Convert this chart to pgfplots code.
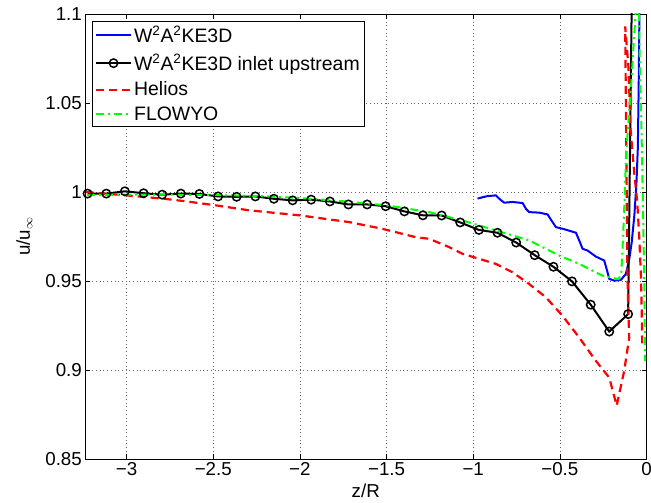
\documentclass[border=0pt]{standalone}
\usepackage{fontspec}
\setmainfont{Liberation Sans}
\usepackage{pgfplots}
\pgfplotsset{compat=1.18}

\definecolor{mblue}{rgb}{0,0,1}
\definecolor{mred}{rgb}{1,0,0}
\definecolor{mgreen}{rgb}{0,1,0}

\begin{document}
\begin{tikzpicture}
\begin{axis}[
  scale only axis, width=561.5bp, height=445bp,
  xmin=-3.24, xmax=0, ymin=0.85, ymax=1.1,
  xtick={-3,-2.5,-2,-1.5,-1,-0.5,0},
  xticklabels={−3,−2.5,−2,−1.5,−1,−0.5,0},
  ytick={0.85,0.9,0.95,1,1.05,1.1},
  yticklabels={0.85,0.9,0.95,1,1.05,1.1},
  tick align=inside, major tick length=5bp,
  tick style={black, line width=0.5bp},
  axis line style={black, line width=0.9bp},
  grid=major, major grid style={black!60, line width=0.7bp, dash pattern=on 0.7bp off 3bp},
  font=\fontsize{18.8}{22}\selectfont,
  xticklabel style={inner sep=3bp},
  yticklabel style={inner sep=3bp},
  xlabel={z/R}, ylabel={u/u\textsubscript{$\infty$}},
  xlabel style={at={(axis description cs:0.5,-0.072)}, anchor=center},
  ylabel style={at={(axis description cs:-0.108,0.5)}, anchor=center},
  legend style={at={(axis description cs:0,1)}, anchor=north west,
    xshift=7bp, yshift=-7bp, draw=black, line width=0.9bp,
    font=\fontsize{19.5}{23}\selectfont, inner sep=2.5bp, row sep=5.5bp},
  legend cell align=left,
  legend image code/.code={\draw[mark repeat=2,mark phase=2,#1]
    plot coordinates {(0bp,0bp) (17.5bp,0bp) (35bp,0bp)};},
]

% W2A2KE3D
\addplot[mblue, line width=2bp] coordinates {
(-0.975,0.9963) (-0.94,0.9972) (-0.917,0.9977) (-0.869,0.9981) (-0.845,0.9958)
(-0.821,0.9940) (-0.773,0.9944) (-0.715,0.9938) (-0.695,0.9905) (-0.677,0.9887)
(-0.619,0.9884) (-0.571,0.9874) (-0.545,0.9835) (-0.523,0.9803) (-0.475,0.9791)
(-0.407,0.9771) (-0.385,0.9720) (-0.369,0.9681) (-0.340,0.9671) (-0.292,0.9637)
(-0.244,0.9615) (-0.228,0.9560) (-0.215,0.9512) (-0.186,0.9502) (-0.148,0.9506)
(-0.119,0.9540) (-0.100,0.9620) (-0.085,0.9720) (-0.070,0.9870) (-0.058,1.0050)
(-0.050,1.0250) (-0.045,1.0600) (-0.041,1.1000) (-0.039,1.1300)
};
\addlegendentry{W\textsuperscript{2}A\textsuperscript{2}KE3D}

% W2A2KE3D, inlet upstream
\addplot[black, line width=2bp, mark=o, mark size=4.2bp,
  mark options={line width=1.5bp, solid}] coordinates {
(-3.225,0.9991) (-3.117,0.9991) (-3.010,1.0004) (-2.902,0.9993) (-2.795,0.9985)
(-2.687,0.9991) (-2.580,0.9989) (-2.472,0.9975) (-2.365,0.9973) (-2.257,0.9975)
(-2.150,0.9962) (-2.042,0.9953) (-1.935,0.9957) (-1.827,0.9947) (-1.720,0.9930)
(-1.612,0.9930) (-1.505,0.9920) (-1.397,0.9891) (-1.290,0.9869) (-1.182,0.9868)
(-1.075,0.9829) (-0.967,0.9787) (-0.860,0.9771) (-0.752,0.9716) (-0.645,0.9645)
(-0.537,0.9580) (-0.430,0.9498) (-0.322,0.9367) (-0.215,0.9216) (-0.106,0.9314)
};
\addlegendentry{W\textsuperscript{2}A\textsuperscript{2}KE3D inlet upstream}
\addplot[black, line width=2bp, forget plot] coordinates {
(-0.106,0.9314) (-0.086,1.1000) (-0.083,1.1300)
};

% Helios
\addplot[mred, line width=2.2bp, dash pattern=on 8bp off 5bp] coordinates {
(-3.235,1.0000) (-3.004,0.9981) (-2.793,0.9963) (-2.677,0.9950) (-2.485,0.9925)
(-2.293,0.9897) (-2.004,0.9869) (-1.716,0.9831) (-1.523,0.9793) (-1.331,0.9746)
(-1.254,0.9737) (-1.138,0.9690) (-1.062,0.9653) (-0.869,0.9596) (-0.773,0.9549)
(-0.677,0.9483) (-0.580,0.9408) (-0.485,0.9305) (-0.388,0.9182) (-0.292,0.9051)
(-0.215,0.8957) (-0.172,0.8800) (-0.129,0.8994) (-0.100,0.9180) (-0.110,0.9520)
(-0.123,1.0930) (-0.104,1.0700) (-0.092,1.0350) (-0.070,1.0100) (-0.054,0.9950)
(-0.042,0.9750) (-0.033,0.9550) (-0.028,0.9350) (-0.025,0.9150)
};
\addlegendentry{Helios}

% FLOWYO
\addplot[mgreen, line width=2bp, dash pattern=on 8bp off 4bp on 2bp off 4bp] coordinates {
(-3.228,0.9982) (-3.000,0.9985) (-2.750,0.9985) (-2.500,0.9983) (-2.250,0.9978)
(-2.000,0.9966) (-1.750,0.9948) (-1.500,0.9925) (-1.254,0.9887) (-1.062,0.9840)
(-0.869,0.9784) (-0.677,0.9728) (-0.504,0.9643) (-0.388,0.9596) (-0.254,0.9530)
(-0.206,0.9519) (-0.160,0.9510) (-0.145,0.9550) (-0.135,0.9750) (-0.125,1.0000)
(-0.117,1.0230) (-0.094,1.0520) (-0.065,1.0970) (-0.055,1.1150) (-0.045,1.1100)
(-0.038,1.0700) (-0.028,1.0300) (-0.020,0.9900) (-0.013,0.9500) (-0.008,0.9050)
};
\addlegendentry{FLOWYO}

\end{axis}
\pgfresetboundingbox
\path ([shift={(-85bp,-44bp)}]current axis.south west)
  rectangle ([shift={(4.5bp,14bp)}]current axis.north east);
\end{tikzpicture}
\end{document}
